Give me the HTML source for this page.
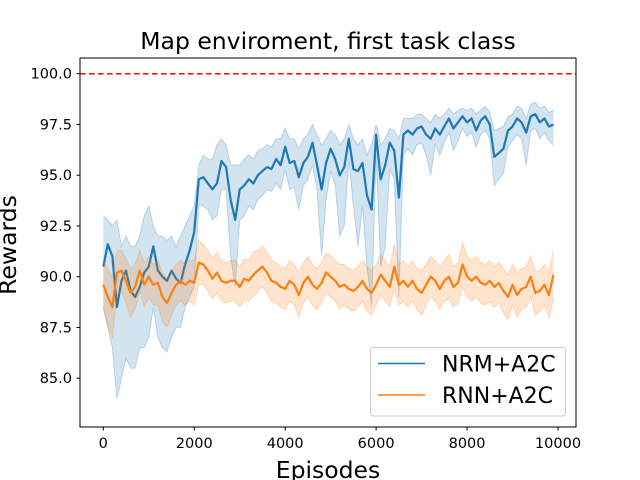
<!DOCTYPE html>
<html><head><meta charset="utf-8"><style>
body{margin:0;background:#fff}
svg{display:block;font-family:"DejaVu Sans","Liberation Sans",sans-serif}
</style></head><body>
<svg id="chart" width="640" height="480" viewBox="0 0 640 480" xmlns="http://www.w3.org/2000/svg">
<rect width="640" height="480" fill="#fff"/>
<text x="328" y="49" font-size="23.5" text-anchor="middle">Map enviroment, first task class</text>
<text x="0" y="0" font-size="23.5" text-anchor="middle" transform="translate(16,245) rotate(-90)">Rewards</text>
<text x="328" y="478" font-size="23.5" text-anchor="middle">Episodes</text>
<g id="plot"></g>
<rect x="80" y="58" width="496" height="369" fill="none" stroke="#000" stroke-width="1"/>
<g id="ticks"></g>
<g>
<rect x="370.5" y="347.5" width="195" height="68.5" rx="3" fill="#fff" fill-opacity="0.8" stroke="#ccc"/>
<line x1="378" y1="363.5" x2="425" y2="363.5" stroke="#1f77b4" stroke-width="1.5"/>
<text x="442" y="371.5" font-size="22">NRM+A2C</text>
<line x1="378" y1="395" x2="425" y2="395" stroke="#ff7f0e" stroke-width="1.5"/>
<text x="442" y="403" font-size="22">RNN+A2C</text>
</g>
</svg>
<script>
const episodes = Array.from({length:100},(_,i)=>i*100);
const nrmMean = [90.5,91.6,91.0,88.5,89.8,90.3,89.3,89.0,89.5,90.2,
90.5,91.5,90.3,90.0,89.8,90.3,89.9,89.7,90.6,91.3,
92.2,94.8,94.9,94.6,94.3,94.6,95.7,95.4,93.8,92.8,
94.3,94.5,94.8,94.6,95.0,95.2,95.4,95.3,95.8,95.5,
96.4,95.6,95.7,94.9,95.6,95.9,96.6,95.5,94.3,95.6,
96.3,95.8,95.0,95.4,96.8,95.3,95.2,95.6,94.0,93.3,
97.0,94.8,95.5,96.6,96.2,93.9,97.0,97.2,97.0,97.3,
97.4,97.0,96.8,97.3,97.0,97.4,97.8,97.3,97.6,97.9,
97.6,97.8,97.2,97.7,97.9,97.5,95.9,96.1,96.3,97.2,
97.4,97.8,97.6,97.1,97.9,98.0,97.6,97.8,97.4,97.5];
const nrmUpper = [93,92.8,92.5,92.8,91.5,92,91.5,91.5,92,93,
93.5,92.5,92,92,91.8,92,91.5,92,92.5,93,
93.5,95.5,96,95.8,95.8,96.5,96.8,96.5,95.5,95.5,
95.5,95.8,96,95.8,96.2,96.3,96.5,96.4,96.8,96.8,
97.3,96.8,96.8,96.3,96.8,97,97.5,97,96.5,96.8,
97.2,97,96.5,96.8,97.5,96.8,96.5,96.8,96,96.5,
97.5,96.5,96.8,97.3,97.2,96.8,97.8,97.8,97.8,98,
98,97.8,97.6,98,97.8,98,98.3,98,98.2,98.3,
98.2,98.3,98,98.2,98.4,98.1,97.2,97.3,97.4,97.9,
98,98.4,98.3,97.8,98.5,98.6,98.3,98.4,98.1,98.2];
const nrmLower = [88.5,87.5,86.5,84,85,86,85.5,85.5,86.5,86.5,
87,88.5,87,86.5,86.3,87,87.5,87.5,88.5,89,
89.5,93.5,93.5,93.3,92.8,93,94.3,94.3,91,89.5,
92.8,93,93.5,93.3,93.8,94,94.3,94.2,94.6,94.3,
95.3,94.3,94.4,93.3,94.5,94.8,95.5,94.3,91,93.8,
95.2,94.5,92,92.5,95.8,93.5,91.5,93.5,90.5,88.5,
96,90.5,91.5,95.3,94.8,89,96,96.3,96.0,96.5,
96.6,96,95,96.5,96,96.6,97.1,96.2,96.7,97.3,
96.9,97.1,96.4,97,97.2,96.8,94.5,94.8,95.1,96.4,
96.7,97,96.8,95.5,97.2,97.3,96.8,97.1,96.7,96.5];
const rnnMean = [89.6,89.0,88.5,90.2,90.3,89.8,89.2,89.5,90.3,89.6,
90.0,89.6,89.7,89.0,88.7,89.2,89.6,89.8,89.6,89.8,
89.7,90.7,90.6,90.3,89.9,90.2,89.8,89.7,89.8,89.8,
89.5,89.9,89.8,90.1,90.3,90.5,90.2,89.8,89.7,89.5,
89.4,89.8,89.6,89.1,89.7,90.0,89.6,89.4,89.7,90.2,
90.0,89.8,89.5,89.6,89.4,89.3,89.5,89.8,89.4,89.2,
89.6,90.1,89.8,89.5,90.5,89.6,89.8,89.5,89.8,89.4,
89.2,89.6,90.0,89.8,89.4,89.8,90.0,89.5,89.7,90.6,
90.0,89.8,90.0,89.7,89.6,89.8,89.5,89.7,89.3,89.0,
89.6,89.1,89.4,89.5,90.0,89.2,89.3,89.6,89.1,90.1];
const rnnSpread = [1.2,1.4,1.5,1.1,1.0,1.1,1.2,1.1,1.0,1.1,
1.0,1.0,1.1,1.2,1.2,1.1,1.0,1.0,1.0,1.0,
1.1,1.1,1.0,1.0,1.0,1.0,1.0,1.0,1.0,1.0,
1.0,1.0,1.0,1.1,1.0,1.0,1.0,1.0,1.0,1.0,
1.0,1.0,1.0,1.1,1.0,1.0,1.0,1.0,1.0,1.0,
1.0,1.0,1.1,1.0,1.0,1.0,1.0,1.0,1.1,1.1,
1.0,1.0,1.0,1.0,1.1,1.0,1.0,1.0,1.0,1.0,
1.1,1.0,1.0,1.0,1.0,1.0,1.1,1.0,1.0,1.1,
1.0,1.0,1.0,1.0,1.0,1.0,1.0,1.0,1.1,1.1,
1.0,1.1,1.0,1.0,1.0,1.1,1.0,1.0,1.1,1.2];
const xTicks = [0,2000,4000,6000,8000,10000];
const yTicks = [85.0,87.5,90.0,92.5,95.0,97.5,100.0];
const targetReward = 100;

const X = e => 103.3 + e*0.04547;
const Y = v => 73.7 + (100 - v)*20.3;
const NS = "http://www.w3.org/2000/svg";
const plot = document.getElementById('plot');
const ticks = document.getElementById('ticks');
function mk(tag, attrs, parent){const el=document.createElementNS(NS,tag);for(const k in attrs)el.setAttribute(k,attrs[k]);parent.appendChild(el);return el;}
function pts(xs, ys){return xs.map((e,i)=>X(e).toFixed(1)+','+Y(ys[i]).toFixed(1)).join(' ');}

function series(name, mean, lo, hi, color){
  const band = mk('polygon',{points: pts(episodes,hi)+' '+pts(episodes.slice().reverse(), lo.slice().reverse()), fill:color, 'fill-opacity':0.2, stroke:'none'}, plot);
  
  
  const up = mk('polyline',{points: pts(episodes,hi), fill:'none', stroke:color, 'stroke-opacity':0.25, 'stroke-width':1}, plot);
  
  
  const dn = mk('polyline',{points: pts(episodes,lo), fill:'none', stroke:color, 'stroke-opacity':0.25, 'stroke-width':1}, plot);
  
  
  const ln = mk('polyline',{points: pts(episodes,mean), fill:'none', stroke:color, 'stroke-width':2.2, 'stroke-linejoin':'round'}, plot);
  
  
}
series('nrm-a2c', nrmMean, nrmLower, nrmUpper, '#1f77b4');
series('rnn-a2c', rnnMean, rnnMean.map((m,i)=>m-rnnSpread[i]), rnnMean.map((m,i)=>m+rnnSpread[i]), '#ff7f0e');

const ref = mk('line',{x1:80,x2:576,y1:Y(targetReward),y2:Y(targetReward),stroke:'#ff0000','stroke-width':1.5,'stroke-dasharray':'5.5,3.5'}, plot);



xTicks.forEach(t=>{
  const l = mk('line',{x1:X(t),x2:X(t),y1:427,y2:430.5,stroke:'#000'}, ticks);
  
  
  const tx = mk('text',{x:X(t),y:448,'font-size':14.5,'text-anchor':'middle'}, ticks);
  tx.textContent = String(t);
  
  
});
yTicks.forEach(t=>{
  const l = mk('line',{x1:76.5,x2:80,y1:Y(t),y2:Y(t),stroke:'#000'}, ticks);
  
  
  const tx = mk('text',{x:72,y:Y(t)+5,'font-size':14.5,'text-anchor':'end'}, ticks);
  tx.textContent = t.toFixed(1);
  
  
});
</script>
</body></html>
